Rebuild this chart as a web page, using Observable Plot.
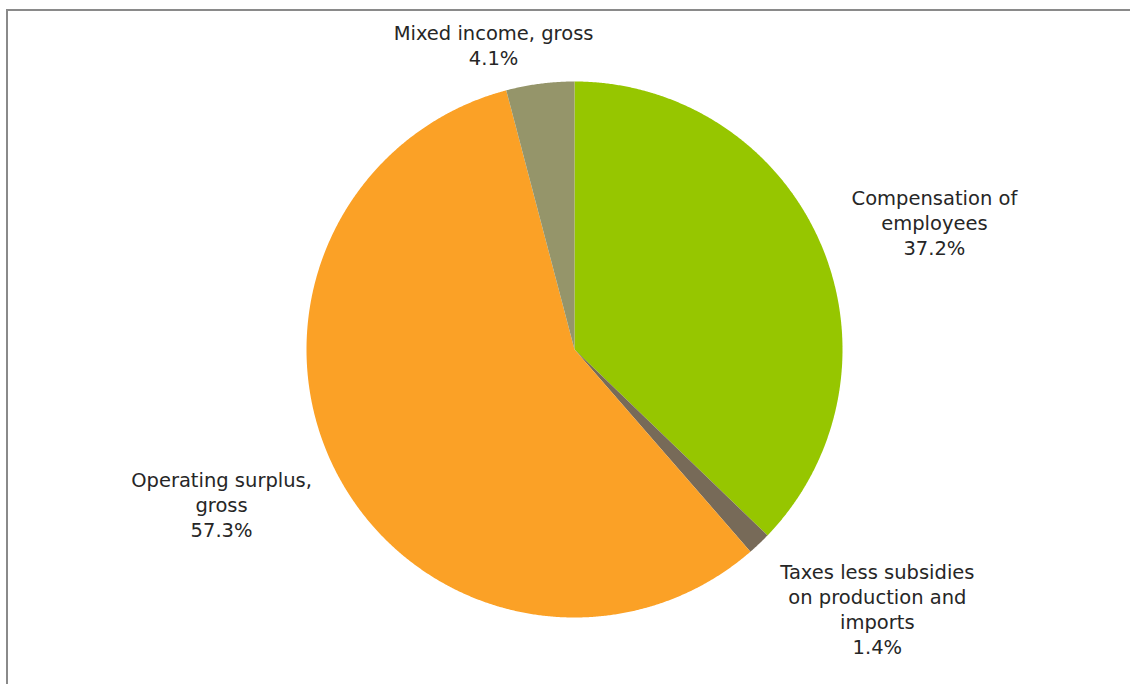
<!DOCTYPE html>
<html>
<head>
<meta charset="utf-8">
<script src="https://cdn.jsdelivr.net/npm/d3@7"></script>
<script src="https://cdn.jsdelivr.net/npm/@observablehq/plot@0.6"></script>
<style>
  html, body { margin: 0; padding: 0; background: #fff; overflow: hidden; }
  #wrap { position: relative; width: 1130px; height: 684px; }
  #frame { position: absolute; left: 6px; top: 9px; width: 1200px; height: 800px;
           border-left: 2px solid #8a8a8a; border-top: 2px solid #8a8a8a; box-sizing: border-box; }
  #chart { position: absolute; left: 0; top: 0; }
</style>
</head>
<body>
<div id="wrap"><div id="frame"></div><div id="chart"></div></div>
<script>
// ---- data ----
const categories = ["Compensation of employees", "Taxes less subsidies on production and imports", "Operating surplus, gross", "Mixed income, gross"];
const labels = ["Compensation of\nemployees", "Taxes less subsidies\non production and\nimports", "Operating surplus,\ngross", "Mixed income, gross"];
const shares = [37.2, 1.4, 57.3, 4.1];
const colors = ["#96c600", "#776a58", "#fba126", "#95956a"];

// ---- layout (unit radius coordinates) ----
const W = 1130, H = 684, cx = 574, cy = 349, R = 268;
const labelPos = [[1.343, 0.474], [1.13, -0.968], [-1.317, -0.578], [-0.302, 1.138]];

const pie = d3.pie().sort(null).value(d => d)(shares);
const slicePts = [];
pie.forEach((a, i) => {
  const n = Math.max(4, Math.ceil((a.endAngle - a.startAngle) / 0.005));
  slicePts.push({name: categories[i], x: 0, y: 0});
  for (let k = 0; k <= n; k++) {
    const t = a.startAngle + (a.endAngle - a.startAngle) * k / n;
    slicePts.push({name: categories[i], x: Math.sin(t), y: Math.cos(t)});
  }
});
const textData = categories.map((c, i) => ({
  text: labels[i] + "\n" + shares[i].toFixed(1) + "%",
  x: labelPos[i][0], y: labelPos[i][1]
}));

const chart = Plot.plot({
  width: W, height: H,
  margin: 0,
  x: {domain: [-cx / R, (W - cx) / R], axis: null},
  y: {domain: [-(H - cy) / R, cy / R], axis: null},
  color: {domain: categories, range: colors},
  style: {fontFamily: "DejaVu Sans, sans-serif", background: "transparent"},
  marks: [
    Plot.line(slicePts, {x: "x", y: "y", z: "name", fill: "name", stroke: "none", curve: "linear-closed"}),
    Plot.text(textData, {x: "x", y: "y", text: "text", fill: "#262626", fontSize: 19.5, lineHeight: 1.28, textAnchor: "middle"})
  ]
});
document.getElementById("chart").appendChild(chart);
</script>
</body>
</html>
